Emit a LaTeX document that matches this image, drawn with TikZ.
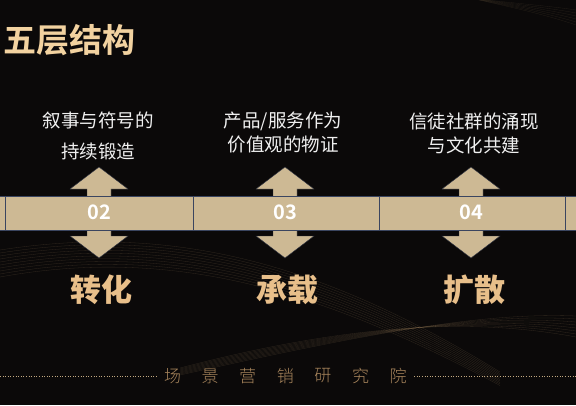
\documentclass[tikz,border=0pt]{standalone}
\usepackage{fontspec}
\newfontfamily\cjk{Noto Sans CJK SC}
\newfontfamily\cjkbold{Noto Sans CJK SC Bold}
\newfontfamily\cjkblack{Noto Sans CJK SC Black}
\newfontfamily\cjklight{Noto Sans CJK SC Light}
\definecolor{bgdark}{HTML}{0B0909}
\definecolor{bandtan}{HTML}{CDB994}
\definecolor{bandline}{HTML}{3A4560}
\definecolor{titlegold}{HTML}{F2D2A0}
\definecolor{stepgold}{HTML}{E8BF8A}
\definecolor{footgold}{HTML}{A8855C}
\definecolor{wavegold}{HTML}{8A7050}
\begin{document}
\begin{tikzpicture}[x=1pt,y=-1pt,
  toplabel/.style={text=white!94!black, align=center, font=\cjk\fontsize{18.5}{24}\selectfont},
  numlabel/.style={text=white, font=\cjkbold\fontsize{20}{22}\selectfont},
  keylabel/.style={text=stepgold, font=\cjkblack\fontsize{31}{34}\selectfont},
  footchar/.style={text=footgold, font=\cjklight\fontsize{17}{18}\selectfont},
  wave/.style={draw=wavegold, line width=0.3pt, opacity=0.3},
  dblarrow/.style={fill=bandtan, draw=bandline!60!black, line width=0.4pt}]
\useasboundingbox (0,0) rectangle (576,405);
\fill[bgdark] (0,0) rectangle (576,405);
% waves
\foreach \i in {0,...,9}
  \draw[wave] (0,250+3*\i) .. controls (180,222+2.5*\i) and (330,268+3*\i) .. (500,372+1.5*\i);
\foreach \i in {0,...,7}
  \draw[wave] (180,375-\i) .. controls (360,335-2*\i) and (480,312+\i) .. (576,316+3*\i);
\foreach \i in {0,...,5}
  \draw[wave, opacity=0.2] (470,-2) .. controls (520,4+\i) and (550,6+2*\i) .. (576,10+3*\i);
% title
\node[anchor=west, text=titlegold, font=\cjkbold\fontsize{33}{35}\selectfont] (title) at (0,40) {五层结构};
% double arrows
\foreach \cx in {99,285,471}
  \draw[dblarrow] (\cx,167) -- (\cx+29,189) -- (\cx+12,189) -- (\cx+12,236) -- (\cx+29,236)
    -- (\cx,258) -- (\cx-29,236) -- (\cx-12,236) -- (\cx-12,189) -- (\cx-29,189) -- cycle;
% band
\fill[bandtan] (0,196) rectangle (576,230);
\draw[bandline, line width=0.5pt] (0,196) -- (576,196) (0,230) -- (576,230);
\foreach \sx in {5,193,379,565}
  \draw[bandline, line width=0.6pt] (\sx,196) -- (\sx,230);
% numbers
\node[numlabel] (n2) at (99,212) {02};
\node[numlabel] (n3) at (285,212) {03};
\node[numlabel] (n4) at (471,212) {04};
% upper texts
\node[toplabel, font=\cjk\fontsize{18.5}{31}\selectfont] (t2) at (98,136) {叙事与符号的\\持续锻造};
\node[toplabel] (t3) at (283,133) {产品/服务作为\\价值观的物证};
\node[toplabel] (t4) at (474,133) {信徒社群的涌现\\与文化共建};
% key words
\node[keylabel] (k2) at (101,290) {转化};
\node[keylabel] (k3) at (287,290) {承载};
\node[keylabel] (k4) at (474,290) {扩散};
% footer
\foreach \c [count=\i] in {场,景,营,销,研,究,院}
  \node[footchar] (f\i) at (172.5+37.6*\i-37.6,376) {\c};
\coordinate (dl) at (0,376);
\coordinate (dr) at (576,376);
\draw[titlegold!80!black, dotted, line width=0.6pt] (dl) -- ([xshift=-4pt]f1.west);
\draw[titlegold!80!black, dotted, line width=0.6pt] ([xshift=4pt]f7.east) -- (dr);
\end{tikzpicture}
\end{document}
